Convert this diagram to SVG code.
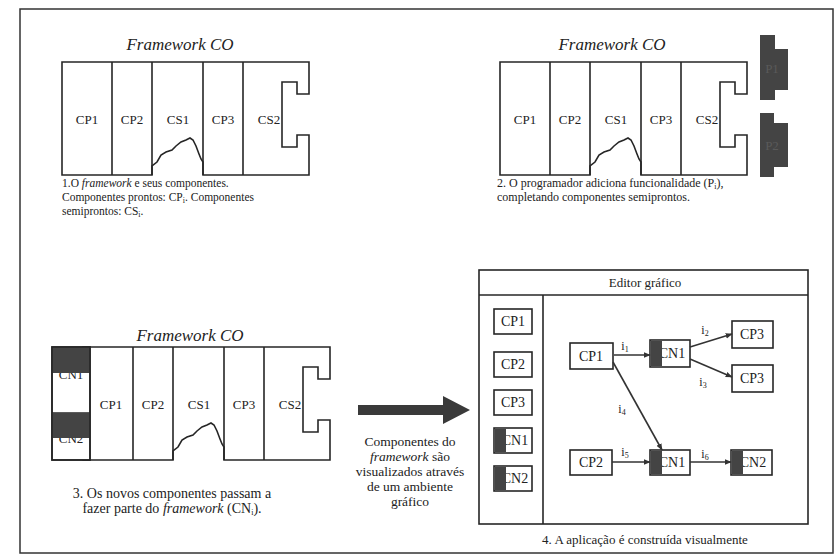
<svg xmlns="http://www.w3.org/2000/svg" xmlns:xlink="http://www.w3.org/1999/xlink" width="837" height="560" viewBox="0 0 837 560" font-family="'Liberation Serif', 'Times New Roman', serif">
<style>
.ln{fill:none;stroke:#262626;stroke-width:1.6}
.bx{fill:#fff;stroke:#262626;stroke-width:1.6}
.dk{fill:#444;stroke:none}
text{font-family:'Liberation Serif','Times New Roman',serif;fill:#222}
.lab{font-size:13px;text-anchor:middle}
.ttl{font-size:17px;font-style:italic;text-anchor:middle}
.cap{font-size:11.5px}
.nd{font-size:14px;text-anchor:middle}
.il{font-size:12px;text-anchor:middle}
.sub{font-size:8px}
.con{fill:none;stroke:#333;stroke-width:1.6;marker-end:url(#ah)}
</style>
<defs>
<marker id="ah" viewBox="0 0 10 10" refX="9" refY="5" markerWidth="7" markerHeight="7" orient="auto" markerUnits="userSpaceOnUse">
<path d="M0,1 L10,5 L0,9 Z" fill="#333"/>
</marker>
<g id="fw">
<path class="bx" d="M0,0 H247 V32 H235 V20 H220 V85 H235 V73 H247 V113 H141 V100 L139,97 L137,92 L134,84 L131,78 L128,76 L124,78 L119,80 L114,84 L110,88 L104,90 L99,93 L95,100 L90,104 V113 H0 Z"/>
<path class="ln" d="M50,0 V113 M90,0 V113 M141,0 V113 M181,0 V113"/>
<text class="lab" x="70" y="62">CP2</text>
<text class="lab" x="116" y="62">CS1</text>
<text class="lab" x="161" y="62">CP3</text>
<text class="lab" x="207" y="62">CS2</text>
</g>
</defs>
<rect x="0" y="0" width="837" height="560" fill="#fff"/>
<rect x="20" y="9" width="813" height="544" fill="none" stroke="#333" stroke-width="1.5"/>

<g id="panel1">
<text class="ttl" x="180" y="50">Framework CO</text>
<use xlink:href="#fw" x="62" y="62"/>
<text class="lab" x="87" y="124">CP1</text>
<text class="cap" x="62" y="187">1.O <tspan font-style="italic">framework</tspan> e seus componentes.</text>
<text class="cap" x="62" y="201">Componentes prontos: CP<tspan class="sub" dy="2">i</tspan><tspan dy="-2">. Componentes</tspan></text>
<text class="cap" x="62" y="215">semiprontos: CS<tspan class="sub" dy="2">i</tspan><tspan dy="-2">.</tspan></text>
</g>

<g id="panel2">
<text class="ttl" x="612" y="50">Framework CO</text>
<use xlink:href="#fw" x="500" y="62"/>
<text class="lab" x="525" y="124">CP1</text>
<g id="p1">
<path class="dk" d="M760,35 H775 V49 H788 V90 H775 V100 H760 Z"/>
<text class="lab" x="772" y="73" style="fill:#5a5a5a">P1</text>
</g>
<g id="p2">
<path class="dk" d="M760,113 H774 V123 H788 V167 H774 V177 H760 Z"/>
<text class="lab" x="772" y="150" style="fill:#5a5a5a">P2</text>
</g>
<text class="cap" x="497" y="187" style="font-size:12px">2. O programador  adiciona funcionalidade (P<tspan class="sub" dy="2">i</tspan><tspan dy="-2">),</tspan></text>
<text class="cap" x="497" y="201" style="font-size:12px">completando componentes semiprontos.</text>
</g>

<g id="panel3">
<text class="ttl" x="190" y="341">Framework CO</text>
<use xlink:href="#fw" x="83" y="347"/>
<text class="lab" x="111" y="409">CP1</text>
<rect class="bx" x="52" y="347" width="38" height="113"/>
<text class="lab" x="71" y="379">CN1</text>
<rect class="dk" x="52" y="347" width="38" height="26"/>
<line class="ln" x1="52" y1="413" x2="90" y2="413"/>
<text class="lab" x="71" y="443">CN2</text>
<rect class="dk" x="52" y="413" width="38" height="25"/>
<rect class="ln" x="52" y="347" width="38" height="113"/>
<text class="cap" x="172" y="498" text-anchor="middle" style="font-size:14px">3. Os novos componentes  passam a</text>
<text class="cap" x="172" y="513" text-anchor="middle" style="font-size:14px">fazer parte do <tspan font-style="italic">framework</tspan> (CN<tspan class="sub" dy="2">i</tspan><tspan dy="-2">).</tspan></text>
</g>

<g id="bigarrow">
<path d="M358,405 H443 V396 L470,410 L443,424 V415 H358 Z" fill="#3a3a3a"/>
<text x="410" y="446" text-anchor="middle" font-size="13.5">Componentes do</text>
<text x="410" y="461" text-anchor="middle" font-size="13.5"><tspan font-style="italic">framework</tspan> são</text>
<text x="410" y="476" text-anchor="middle" font-size="13.5">visualizados através</text>
<text x="410" y="491" text-anchor="middle" font-size="13.5">de um ambiente</text>
<text x="410" y="506" text-anchor="middle" font-size="13.5">gráfico</text>
</g>

<g id="editor">
<rect class="bx" x="479" y="270" width="329" height="254"/>
<line class="ln" x1="479" y1="295" x2="808" y2="295"/>
<line class="ln" x1="543" y1="295" x2="543" y2="524"/>
<text x="645" y="287" text-anchor="middle" font-size="13">Editor gráfico</text>
</g>

<g id="pal-cp1"><rect class="bx" x="494" y="309" width="38" height="25"/><text class="nd" x="513" y="326">CP1</text></g>
<g id="pal-cp2"><rect class="bx" x="494" y="352" width="38" height="25"/><text class="nd" x="513" y="369">CP2</text></g>
<g id="pal-cp3"><rect class="bx" x="494" y="390" width="38" height="25"/><text class="nd" x="513" y="407">CP3</text></g>
<g id="pal-cn1"><rect class="bx" x="494" y="428" width="38" height="25"/><text class="nd" x="515" y="445">CN1</text><rect class="dk" x="495" y="429" width="11" height="23"/></g>
<g id="pal-cn2"><rect class="bx" x="494" y="466" width="38" height="25"/><text class="nd" x="515" y="483">CN2</text><rect class="dk" x="495" y="467" width="11" height="23"/></g>

<g id="n-cp1"><rect class="bx" x="570" y="343" width="43" height="26"/><text class="nd" x="591" y="361">CP1</text></g>
<g id="n-cn1a"><rect class="bx" x="650" y="340" width="40" height="27"/><text class="nd" x="672" y="358">CN1</text><rect class="dk" x="651" y="341" width="11" height="25"/></g>
<g id="n-cp3a"><rect class="bx" x="732" y="321" width="41" height="27"/><text class="nd" x="752" y="339">CP3</text></g>
<g id="n-cp3b"><rect class="bx" x="732" y="365" width="41" height="27"/><text class="nd" x="752" y="383">CP3</text></g>
<g id="n-cp2"><rect class="bx" x="570" y="450" width="42" height="25"/><text class="nd" x="591" y="467">CP2</text></g>
<g id="n-cn1b"><rect class="bx" x="650" y="450" width="40" height="25"/><text class="nd" x="672" y="467">CN1</text><rect class="dk" x="651" y="451" width="11" height="23"/></g>
<g id="n-cn2"><rect class="bx" x="731" y="450" width="41" height="25"/><text class="nd" x="753" y="467">CN2</text><rect class="dk" x="732" y="451" width="11" height="23"/></g>

<g id="connectors">
<path class="con" d="M614,355 L650,355"/>
<path class="con" d="M690,347 L732,334"/>
<path class="con" d="M690,359 L732,377"/>
<path class="con" d="M613,362 L662,450"/>
<path class="con" d="M612,462 L650,462"/>
<path class="con" d="M690,462 L731,462"/>
<text class="il" x="625" y="350">i<tspan class="sub" dy="2">1</tspan></text>
<text class="il" x="705" y="334">i<tspan class="sub" dy="2">2</tspan></text>
<text class="il" x="703" y="386">i<tspan class="sub" dy="2">3</tspan></text>
<text class="il" x="622" y="413">i<tspan class="sub" dy="2">4</tspan></text>
<text class="il" x="625" y="456">i<tspan class="sub" dy="2">5</tspan></text>
<text class="il" x="705" y="458">i<tspan class="sub" dy="2">6</tspan></text>
</g>

<text x="645" y="544" text-anchor="middle" font-size="13">4. A aplicação é construída visualmente</text>
</svg>
